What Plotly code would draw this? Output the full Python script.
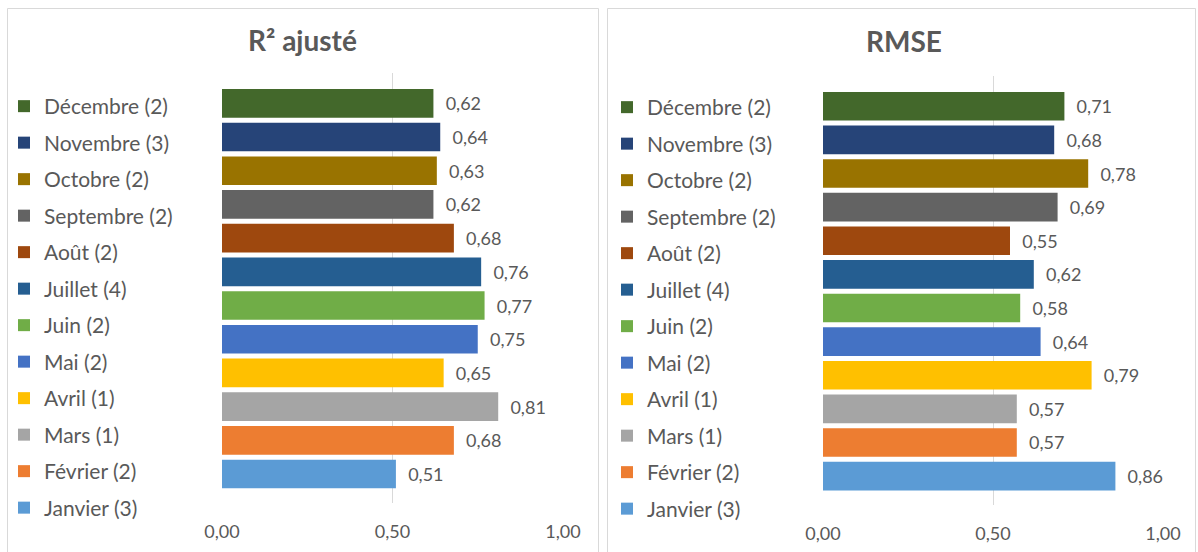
import plotly.graph_objects as go

# Months (number of models in parentheses), listed top to bottom
months = ["Décembre (2)", "Novembre (3)", "Octobre (2)", "Septembre (2)", "Août (2)",
          "Juillet (4)", "Juin (2)", "Mai (2)", "Avril (1)", "Mars (1)",
          "Février (2)", "Janvier (3)"]

r2_ajuste = [0.62, 0.64, 0.63, 0.62, 0.68, 0.76, 0.77, 0.75, 0.65, 0.81, 0.68, 0.51]
rmse = [0.71, 0.68, 0.78, 0.69, 0.55, 0.62, 0.58, 0.64, 0.79, 0.57, 0.57, 0.86]

month_colors = ["#43682B", "#264478", "#997300", "#636363", "#9E480E", "#255E91",
                "#70AD47", "#4472C4", "#FFC000", "#A5A5A5", "#ED7D31", "#5B9BD5"]

tick_vals = [0, 0.5, 1.0]

W, H = 1198, 552
FONT = "Lato, Carlito, Calibri, sans-serif"
TXT = "#595959"
GRID = "#D9D9D9"


def px(x):
    return x / W


def py(y):
    return 1 - y / H


fig = go.Figure()

panels = [
    dict(values=r2_ajuste, xa="x", ya="y", legend="legend", tag="L"),
    dict(values=rmse, xa="x2", ya="y2", legend="legend2", tag="R"),
]

for p in panels:
    for name, val, col in zip(months, p["values"], month_colors):
        fig.add_trace(go.Bar(
            x=[val], y=[name], orientation="h", name=name,
            marker=dict(color=col, line=dict(width=0)),
            width=0.85,
            texttemplate="\u00a0\u00a0%{x:.2f}", textposition="outside",
            textfont=dict(family=FONT, size=18, color=TXT),
            cliponaxis=False, constraintext="none",
            xaxis=p["xa"], yaxis=p["ya"], legend=p["legend"],
            legendgroup=p["tag"] + name, hoverinfo="skip",
        ))

xaxis_common = dict(
    range=[0, 1.0], tickvals=tick_vals, tickformat=".2f",
    showgrid=True, gridcolor=GRID, gridwidth=1, zeroline=False,
    showline=False, ticks="", ticklabelstandoff=16, automargin=False,
    tickfont=dict(family=FONT, size=18, color=TXT), fixedrange=True,
)
yaxis_common = dict(
    categoryorder="array", categoryarray=months[::-1],
    range=[-0.86, 11.9], showticklabels=False, showgrid=False,
    zeroline=False, showline=False, ticks="", fixedrange=True, automargin=False,
)

legend_common = dict(
    font=dict(family=FONT, size=21, color=TXT), bgcolor="rgba(0,0,0,0)",
    traceorder="grouped", tracegroupgap=6.2, xanchor="left", yanchor="top",
    itemclick=False, itemdoubleclick=False,
)

fig.update_layout(
    width=W, height=H, margin=dict(l=0, r=0, t=0, b=0, autoexpand=False),
    paper_bgcolor="white", plot_bgcolor="white",
    separators=", ", barmode="overlay", showlegend=True,
    xaxis=dict(domain=[px(222), px(563)], anchor="y", **xaxis_common),
    yaxis=dict(domain=[py(503), py(73)], anchor="x", **yaxis_common),
    xaxis2=dict(domain=[px(823), px(1163)], anchor="y2", **xaxis_common),
    yaxis2=dict(domain=[py(505), py(76)], anchor="x2", **yaxis_common),
    legend=dict(x=px(4), y=py(86), **legend_common),
    legend2=dict(x=px(607), y=py(87), **legend_common),
    shapes=[
        dict(type="rect", xref="paper", yref="paper",
             x0=px(7.5), x1=px(598.5), y0=-0.05, y1=py(8.5),
             line=dict(color=GRID, width=1), fillcolor="rgba(0,0,0,0)", layer="below"),
        dict(type="rect", xref="paper", yref="paper",
             x0=px(607.5), x1=px(1195.5), y0=-0.05, y1=py(8.5),
             line=dict(color=GRID, width=1), fillcolor="rgba(0,0,0,0)", layer="below"),
    ],
    annotations=[
        dict(text="<b>R² ajusté</b>", x=px(302), y=py(40), xref="paper", yref="paper",
             showarrow=False, xanchor="center", yanchor="middle",
             font=dict(family=FONT, size=28, color=TXT)),
        dict(text="<b>RMSE</b>", x=px(904), y=py(41), xref="paper", yref="paper",
             showarrow=False, xanchor="center", yanchor="middle",
             font=dict(family=FONT, size=28, color=TXT)),
    ],
)

fig.write_html("out.html", config={"displayModeBar": False})
